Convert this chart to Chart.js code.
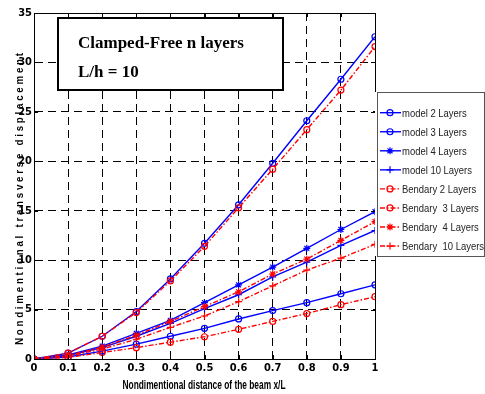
<!DOCTYPE html>
<html>
<head>
<meta charset="utf-8">
<script src="https://cdn.jsdelivr.net/npm/chart.js@4/dist/chart.umd.min.js"></script>
<style>
  html, body { margin: 0; padding: 0; background: #fff; }
</style>
</head>
<body>
<canvas id="beamChart" width="485" height="394"></canvas>
<script>
// x/L positions along the beam
const xPos = [0, 0.1, 0.2, 0.3, 0.4, 0.5, 0.6, 0.7, 0.8, 0.9, 1]

// model results
const model2 = [0, 0.6, 2.3, 4.8, 8.1, 11.7, 15.6, 19.8, 24.1, 28.3, 32.6]
const model3 = [0, 0.2, 0.8, 1.5, 2.3, 3.1, 4.05, 4.9, 5.7, 6.6, 7.5]
const model4 = [0, 0.4, 1.3, 2.6, 3.9, 5.7, 7.5, 9.3, 11.2, 13.1, 14.9]
const model10 = [0, 0.35, 1.15, 2.3, 3.6, 5.1, 6.5, 8.3, 9.8, 11.5, 13.0]

// Bendary results
const bendary2 = [0, 0.6, 2.3, 4.7, 7.9, 11.4, 15.3, 19.2, 23.2, 27.2, 31.6]
const bendary3 = [0, 0.15, 0.65, 1.15, 1.7, 2.25, 3.0, 3.8, 4.6, 5.5, 6.3]
const bendary4 = [0, 0.35, 1.2, 2.4, 3.8, 5.3, 6.8, 8.6, 10.1, 12.0, 13.9]
const bendary10 = [0, 0.3, 1.0, 2.0, 3.2, 4.35, 5.8, 7.4, 9.0, 10.2, 11.6]

const seriesLabels = ['model 2 Layers', 'model 3 Layers', 'model 4 Layers', 'model 10 Layers',
    'Bendary 2 Layers', 'Bendary  3 Layers', 'Bendary  4 Layers', 'Bendary  10 Layers']
const yTicks = [0, 5, 10, 15, 20, 25, 30, 35]

const narrow = "'DejaVu Sans Condensed', 'Liberation Sans Narrow', sans-serif"
const BLUE = '#0000ff'
const RED = '#ff0000'
const dashDot = [5, 2, 1.5, 2]

function toPoints(values) {
    return values.map((v, i) => ({ x: xPos[i], y: v }))
}

function makeSet(label, values, color, style, isModel) {
    return {
        label: label,
        data: toPoints(values),
        borderColor: color,
        backgroundColor: color,
        borderWidth: 1.4,
        borderDash: isModel ? [] : dashDot,
        pointStyle: style,
        pointRadius: style === 'circle' ? 3 : 3.5,
        pointBorderWidth: 1.2,
        pointBorderColor: color,
        pointBackgroundColor: 'rgba(0,0,0,0)',
        tension: 0,
        order: isModel ? 1 : 0
    }
}

const datasets = [
    makeSet(seriesLabels[0], model2, BLUE, 'circle', true),
    makeSet(seriesLabels[1], model3, BLUE, 'circle', true),
    makeSet(seriesLabels[2], model4, BLUE, 'star', true),
    makeSet(seriesLabels[3], model10, BLUE, 'cross', true),
    makeSet(seriesLabels[4], bendary2, RED, 'circle', false),
    makeSet(seriesLabels[5], bendary3, RED, 'circle', false),
    makeSet(seriesLabels[6], bendary4, RED, 'star', false),
    makeSet(seriesLabels[7], bendary10, RED, 'cross', false)
]

// squeezed text, like a narrow font
function narrowText(ctx, text, x, y, sx) {
    ctx.save()
    ctx.translate(x, y)
    ctx.scale(sx, 1)
    ctx.fillText(text, 0, 0)
    ctx.restore()
}

// box, inward ticks, text box, legend and axis titles
const matlabLook = {
    id: 'matlabLook',
    afterDraw(chart) {
        const ctx = chart.ctx
        const a = chart.chartArea
        const xs = chart.scales.x
        const ys = chart.scales.y
        ctx.save()

        // axes box
        ctx.strokeStyle = '#000'
        ctx.lineWidth = 1
        ctx.setLineDash([])
        ctx.strokeRect(Math.round(a.left) + 0.5, Math.round(a.top) + 0.5,
            Math.round(a.right - a.left), Math.round(a.bottom - a.top))

        // inward ticks on all four sides
        ctx.beginPath()
        xPos.forEach(v => {
            const px = Math.round(xs.getPixelForValue(v)) + 0.5
            ctx.moveTo(px, a.bottom); ctx.lineTo(px, a.bottom - 4)
            ctx.moveTo(px, a.top); ctx.lineTo(px, a.top + 4)
        })
        yTicks.forEach(v => {
            const py = Math.round(ys.getPixelForValue(v)) + 0.5
            ctx.moveTo(a.left, py); ctx.lineTo(a.left + 4, py)
            ctx.moveTo(a.right, py); ctx.lineTo(a.right - 4, py)
        })
        ctx.stroke()

        // annotation box
        ctx.fillStyle = '#fff'
        ctx.fillRect(57, 17, 226, 73)
        ctx.lineWidth = 2
        ctx.strokeRect(58, 18, 225, 72)
        ctx.fillStyle = '#000'
        ctx.font = "bold 17px 'Liberation Serif', 'Times New Roman', serif"
        ctx.textBaseline = 'alphabetic'
        ctx.textAlign = 'left'
        ctx.fillText('Clamped-Free n layers', 78, 48)
        ctx.fillText('L/h = 10', 78, 77)

        // legend
        const lx = 377, ly = 92, lw = 107, lh = 164
        ctx.fillStyle = '#fff'
        ctx.fillRect(lx - 2, ly, lw + 2, lh)
        ctx.lineWidth = 1
        ctx.strokeStyle = '#555'
        ctx.strokeRect(lx + 0.5, ly + 0.5, lw, lh)
        ctx.textBaseline = 'middle'
        chart.data.datasets.forEach((ds, i) => {
            const cy = 112.7 + i * 19.05
            ctx.strokeStyle = ds.borderColor
            ctx.lineWidth = 1.4
            ctx.setLineDash(ds.borderDash)
            ctx.beginPath()
            ctx.moveTo(380, cy); ctx.lineTo(401, cy)
            ctx.stroke()
            ctx.setLineDash([])
            ctx.lineWidth = 1.2
            ctx.fillStyle = 'rgba(0,0,0,0)'
            Chart.helpers.drawPoint(ctx, {
                pointStyle: ds.pointStyle, radius: ds.pointRadius,
                rotation: 0, borderWidth: 1.2
            }, 390, cy)
            ctx.fillStyle = '#222'
            ctx.font = "11px 'Liberation Sans', Arial, sans-serif"
            narrowText(ctx, ds.label, 402, cy + 1, 0.86)
        })

        // y axis title, letter spaced and squeezed to fit
        const yTitle = 'Nondimentional transverse displacement'.split('').join(' ')
        ctx.font = "bold 11px 'Liberation Sans', Arial, sans-serif"
        ctx.fillStyle = '#000'
        const yw = ctx.measureText(yTitle).width
        ctx.translate(20, 199)
        ctx.rotate(-Math.PI / 2)
        ctx.scale(292 / yw, 1)
        ctx.textAlign = 'center'
        ctx.textBaseline = 'middle'
        ctx.fillText(yTitle, 0, 0)
        ctx.setTransform(1, 0, 0, 1, 0, 0)

        // x axis title
        const xTitle = 'Nondimentional distance of the beam x/L'
        ctx.font = "bold 12px 'Liberation Sans', Arial, sans-serif"
        const xw = ctx.measureText(xTitle).width
        ctx.translate(204, 386)
        ctx.scale(163 / xw, 1)
        ctx.textAlign = 'center'
        ctx.fillText(xTitle, 0, 0)

        ctx.restore()
    }
}

const beamChart = new Chart(document.getElementById('beamChart'), {
    type: 'line',
    data: { datasets: datasets },
    options: {
        responsive: false,
        animation: false,
        layout: { padding: { top: 13, right: 110, left: 0, bottom: 0 } },
        plugins: {
            legend: { display: false },
            tooltip: { enabled: false }
        },
        scales: {
            x: {
                type: 'linear',
                min: 0,
                max: 1,
                afterFit(scale) { scale.height = 35 },
                afterBuildTicks(scale) { scale.ticks = xPos.map(v => ({ value: v })) },
                ticks: {
                    padding: 3,
                    color: '#000',
                    font: { family: narrow, size: 11, weight: 'bold' },
                    callback: v => (v === 0 || v === 1) ? String(v) : v.toFixed(1)
                },
                grid: { color: '#000', lineWidth: 1, drawTicks: false },
                border: { color: '#000', dash: [8, 5] }
            },
            y: {
                min: 0,
                max: 35,
                afterFit(scale) { scale.width = 34 },
                afterBuildTicks(scale) { scale.ticks = yTicks.map(v => ({ value: v })) },
                ticks: {
                    padding: 2,
                    color: '#000',
                    font: { family: narrow, size: 11, weight: 'bold' }
                },
                grid: { color: '#000', lineWidth: 1, drawTicks: false },
                border: { color: '#000', dash: [8, 5] }
            }
        }
    },
    plugins: [matlabLook]
})
</script>
</body>
</html>
